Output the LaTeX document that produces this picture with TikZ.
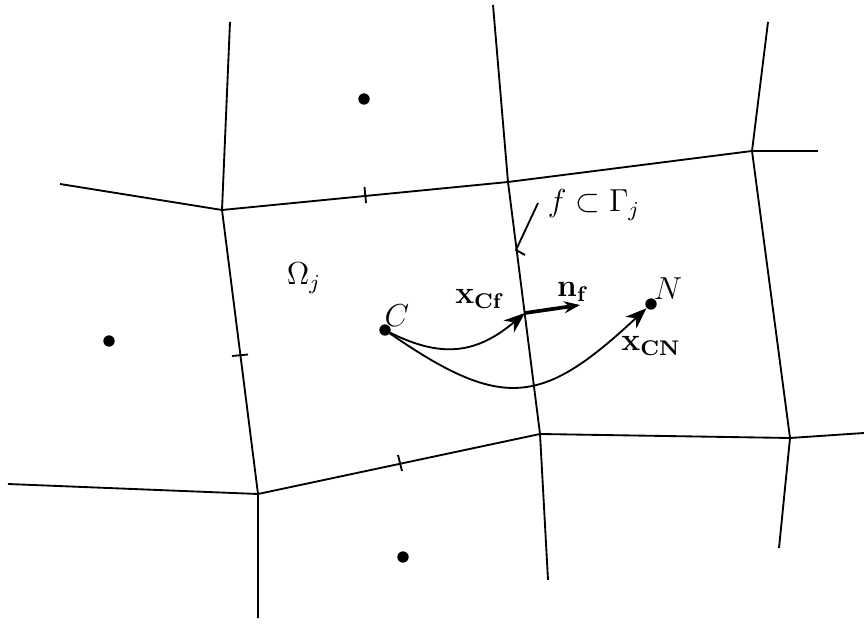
\documentclass[tikz,border=0pt]{standalone}
\usetikzlibrary{arrows.meta}
\begin{document}
\begin{tikzpicture}[x=0.01327cm,y=-0.01327cm,
  edge/.style={line width=0.7pt,black},
  tick/.style={line width=0.7pt,black},
  cell/.style={circle,fill=black,inner sep=0pt,minimum size=4.3pt},
  curv/.style={line width=0.7pt,-{Stealth[length=8pt,width=6pt,inset=2.5pt]}},
  lbl/.style={inner sep=1pt,font=\large}]
\useasboundingbox (0,0) rectangle (864,624);
% vertices
\coordinate (A) at (222,210);
\coordinate (B) at (258,494);
\coordinate (D) at (752,151);
\coordinate (E) at (540,434);
\coordinate (F) at (790,438);
\coordinate (G) at (508,182);
% free ends
\coordinate (a1) at (230,22);
\coordinate (b1) at (258,618);
\coordinate (a2) at (60,184);
\coordinate (d1) at (818,151);
\coordinate (d2) at (768,22);
\coordinate (g1) at (493,5);
\coordinate (e1) at (548,580);
\coordinate (f1) at (779,548);
\coordinate (f2) at (864,433);
\coordinate (b2) at (8,484);
% grid edges
\draw[edge] (a1) -- (A) -- (B) -- (b1);
\draw[edge] (a2) -- (A) -- (G) -- (D) -- (d1);
\draw[edge] (g1) -- (G) -- (E) -- (e1);
\draw[edge] (d2) -- (D) -- (F) -- (f1);
\draw[edge] (b2) -- (B) -- (E) -- (F) -- (f2);
% ticks
\draw[tick] (364.5,187) -- (366,203);
\draw[tick] (232,356) -- (248,354.5);
\draw[tick] (398,455) -- (402,471);
% cell centres
\node[cell] (P1) at (364,99) {};
\node[cell] (P2) at (109,341) {};
\node[cell] (P3) at (403,557) {};
\node[cell] (C) at (385,330) {};
\node[cell] (N) at (651,304) {};
\coordinate (Pf) at (525,313);
\coordinate (nf) at (580,305);
% labels
\node[lbl] (Om) at (304,278) {$\Omega_j$};
\node[lbl] (Cl) at (397,316) {$C$};
\node[lbl] (Nl) at (668,289) {$N$};
\node[lbl] (xcf) at (480,299) {$\mathbf{x_{Cf}}$};
\node[lbl] (nfl) at (573,292) {$\mathbf{n_f}$};
\node[lbl] (xcn) at (651,346) {$\mathbf{x_{CN}}$};
\node[lbl] (fl) at (594,205) {$f\subset\Gamma_j$};
% pointer to face
\coordinate (pt1) at (538,203);
\coordinate (pt2) at (516,250);
\coordinate (pt3) at (525,255);
\draw[tick] (pt1) -- (pt2) -- (pt3);
% vectors
\draw[curv] (C.center) to[out=-28,in=-140,looseness=1.15] (Pf);
\draw[curv] (C.center) to[out=-35,in=-137,looseness=1.4] (N);
\draw[line width=1.4pt,-{Stealth[length=6pt,width=4.5pt]}] (Pf) -- (nf);
\end{tikzpicture}
\end{document}
